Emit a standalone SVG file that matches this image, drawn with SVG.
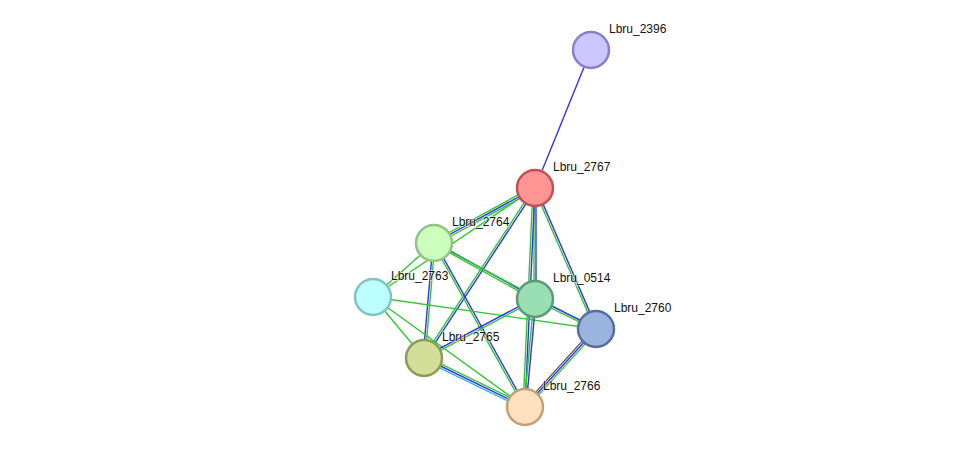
<svg xmlns="http://www.w3.org/2000/svg" width="976" height="453" viewBox="0 0 976 453">
<style>
.g{stroke:#33c633;stroke-width:1.4;fill:none}
.b{stroke:#3333ee;stroke-width:1.4;fill:none}
.c{stroke:#33b0e0;stroke-width:1.4;fill:none}
.k{stroke:#555555;stroke-width:1.4;fill:none}
.n{stroke-width:2.5}
.t{font-family:"Liberation Sans",Arial,sans-serif;font-size:12px;fill:#111;stroke:#fff;stroke-width:1.5;stroke-opacity:0.6;paint-order:stroke}
</style>
<rect width="976" height="453" fill="#fff"/>
<g id="connectors">
<line class="b" x1="591" y1="50" x2="535" y2="188"/>
<line class="g" x1="535.96" y1="189.76" x2="434.96" y2="244.76"/>
<line class="b" x1="535" y1="188" x2="434" y2="243"/>
<line class="g" x1="534.04" y1="186.24" x2="433.04" y2="241.24"/>
<line class="g" x1="535" y1="188" x2="373" y2="297"/>
<line class="g" x1="534" y1="188" x2="534" y2="299"/>
<line class="b" x1="536" y1="188" x2="536" y2="299"/>
<line class="g" x1="533" y1="188" x2="523" y2="407"/>
<line class="b" x1="535" y1="188" x2="525" y2="407"/>
<line class="g" x1="534.08" y1="188.40" x2="595.08" y2="329.40"/>
<line class="b" x1="535.92" y1="187.60" x2="596.92" y2="328.60"/>
<line class="g" x1="534.16" y1="187.45" x2="423.16" y2="357.45"/>
<line class="b" x1="535.84" y1="188.55" x2="424.84" y2="358.55"/>
<line class="g" x1="433.52" y1="243.87" x2="534.52" y2="299.87"/>
<line class="b" x1="434.48" y1="242.13" x2="535.48" y2="298.13"/>
<line class="g" x1="434" y1="243" x2="596" y2="329"/>
<line class="b" x1="433.0" y1="242.91" x2="423.0" y2="357.91"/>
<line class="g" x1="435.0" y1="243.09" x2="425.0" y2="358.09"/>
<line class="g" x1="433.13" y1="243.49" x2="524.13" y2="407.49"/>
<line class="b" x1="434.87" y1="242.51" x2="525.87" y2="406.51"/>
<line class="g" x1="434" y1="243" x2="373" y2="297"/>
<line class="g" x1="373" y1="297" x2="596" y2="329"/>
<line class="g" x1="373" y1="297" x2="424" y2="358"/>
<line class="g" x1="373" y1="297" x2="525" y2="407"/>
<line class="g" x1="424.47" y1="358.88" x2="535.47" y2="299.88"/>
<line class="b" x1="423.53" y1="357.12" x2="534.53" y2="298.12"/>
<line class="g" x1="424.87" y1="356.20" x2="525.87" y2="405.20"/>
<line class="b" x1="424" y1="358" x2="525" y2="407"/>
<line class="c" x1="423.13" y1="359.80" x2="524.13" y2="408.80"/>
<line class="b" x1="535.44" y1="298.10" x2="596.44" y2="328.10"/>
<line class="g" x1="534.56" y1="299.90" x2="595.56" y2="329.90"/>
<line class="g" x1="534.0" y1="298.9" x2="524.0" y2="406.9"/>
<line class="b" x1="536.0" y1="299.1" x2="526.0" y2="407.1"/>
<line class="k" x1="594.52" y1="327.65" x2="523.52" y2="405.65"/>
<line class="b" x1="596" y1="329" x2="525" y2="407"/>
<line class="g" x1="597.48" y1="330.35" x2="526.48" y2="408.35"/>
</g>
<g id="Lbru_2396"><circle class="n" cx="591" cy="50" r="18" fill="#ccc6ff" stroke="#8a80c4"/><text class="t" x="609" y="33">Lbru_2396</text></g>
<g id="Lbru_2767"><circle class="n" cx="535" cy="188" r="18" fill="#ff9494" stroke="#c05252"/><text class="t" x="553" y="171">Lbru_2767</text></g>
<g id="Lbru_2764"><circle class="n" cx="434" cy="243" r="18" fill="#ccffbe" stroke="#92c282"/><text class="t" x="452" y="226">Lbru_2764</text></g>
<g id="Lbru_2763"><circle class="n" cx="373" cy="297" r="18" fill="#bdffff" stroke="#82c2c2"/><text class="t" x="391" y="280">Lbru_2763</text></g>
<g id="Lbru_0514"><circle class="n" cx="535" cy="299" r="18" fill="#9adeb4" stroke="#5c9a72"/><text class="t" x="553" y="282">Lbru_0514</text></g>
<g id="Lbru_2760"><circle class="n" cx="596" cy="329" r="18" fill="#9ab4df" stroke="#56709e"/><text class="t" x="614" y="312">Lbru_2760</text></g>
<g id="Lbru_2765"><circle class="n" cx="424" cy="358" r="18" fill="#d3de99" stroke="#8c9a5a"/><text class="t" x="442" y="341">Lbru_2765</text></g>
<g id="Lbru_2766"><circle class="n" cx="525" cy="407" r="18" fill="#ffe2bd" stroke="#c0a278"/><text class="t" x="543" y="390">Lbru_2766</text></g>
</svg>
